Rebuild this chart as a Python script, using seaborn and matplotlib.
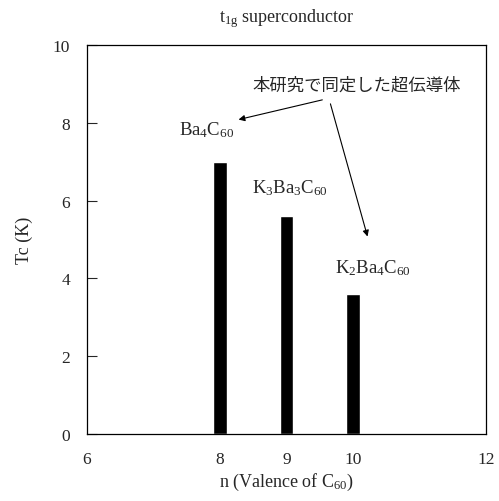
import matplotlib
matplotlib.use("Agg")
import matplotlib.pyplot as plt
import pandas as pd
import seaborn as sns

valence = [8, 9, 10]
tc = [7.0, 5.6, 3.6]
compounds = [r"Ba$_4$C$_{60}$", r"K$_3$Ba$_3$C$_{60}$", r"K$_2$Ba$_4$C$_{60}$"]
label_pos = [(7.8, 7.85), (9.05, 6.35), (10.3, 4.3)]
xticks = [6, 8, 9, 10, 12]
yticks = [0, 2, 4, 6, 8, 10]
note = "本研究で同定した超伝導体"

sns.set_theme(style="white")
plt.rcParams["font.family"] = ["Liberation Serif", "Noto Sans CJK JP"]
plt.rcParams["mathtext.fontset"] = "custom"
plt.rcParams["mathtext.rm"] = "Liberation Serif"
plt.rcParams["mathtext.it"] = "Liberation Serif"

df = pd.DataFrame({"n": valence, "Tc": tc})

fig = plt.figure(figsize=(4.99, 5.02), dpi=100)
ax = fig.add_axes([0.174, 0.1335, 0.8, 0.7745])
sns.barplot(data=df, x="n", y="Tc", native_scale=True, width=0.2,
            color="black", saturation=1, ax=ax)

ax.set_xlim(6, 12)
ax.set_ylim(0, 10)
ax.set_xticks(xticks)
ax.set_yticks(yticks)
ax.tick_params(axis="x", length=0, pad=12, labelsize=12.5)
ax.tick_params(axis="y", direction="in", length=7, width=0.8, left=True,
               pad=12, labelsize=12.5)
for s in ax.spines.values():
    s.set_color("black")
    s.set_linewidth(0.9)

ax.set_xlabel(r"n (Valence of C$_{60}$)", fontsize=13, labelpad=3)
ax.set_ylabel("Tc (K)", fontsize=13, labelpad=14)
ax.set_title(r"t$_{1g}$ superconductor", fontsize=13, pad=17)

for text, (x, y) in zip(compounds, label_pos):
    ax.text(x, y, text, ha="center", va="center", fontsize=13.5)

ax.text(10.05, 9.0, note, ha="center", va="center", fontsize=12.5,
        family=["Noto Sans CJK JP", "DejaVu Sans"])
arrow = dict(arrowstyle="-|>", color="black", lw=0.8, mutation_scale=9)
ax.annotate("", xy=(8.24, 8.07), xytext=(9.58, 8.61), arrowprops=arrow)
ax.annotate("", xy=(10.23, 5.01), xytext=(9.65, 8.56), arrowprops=arrow)

fig.savefig("out.png", dpi=100)
